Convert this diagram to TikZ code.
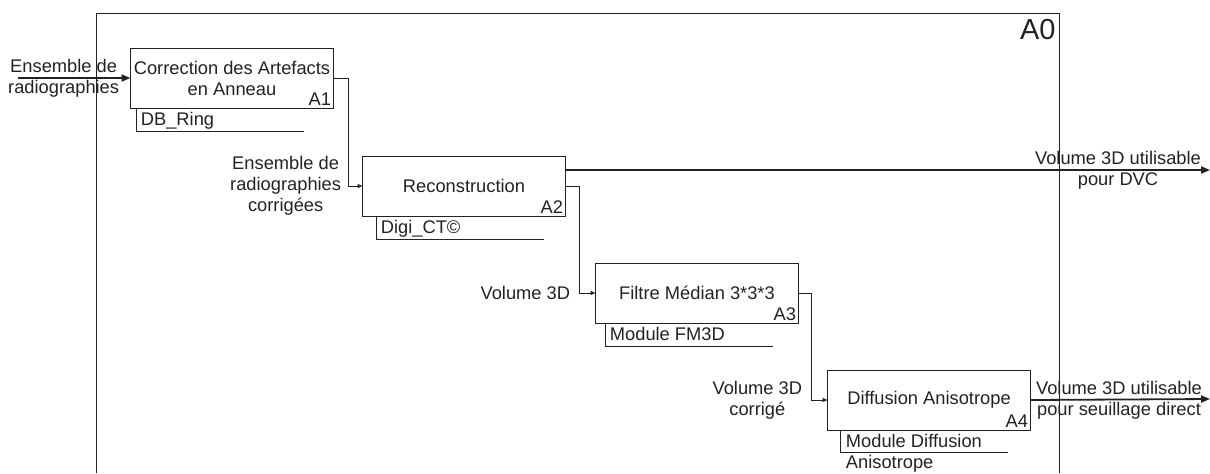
\documentclass[tikz,border=0pt]{standalone}
\usepackage{fontspec}
\setmainfont{Liberation Sans}
\usetikzlibrary{positioning, arrows.meta}
\definecolor{idefgray}{RGB}{34,34,34}

\begin{document}
\begin{tikzpicture}[x=0.5pt, y=-0.5pt,
  font=\fontsize{9.15}{10.5}\selectfont, text=idefgray,
  activity/.style={rectangle, draw=idefgray, line width=0.5pt, align=center,
    minimum width=101.5pt, minimum height=30pt, inner sep=0pt, outer sep=0pt},
  code/.style={anchor=south east, inner sep=1pt},
  lbl/.style={align=center, inner sep=2pt},
  mlbl/.style={anchor=base west, inner sep=0pt, align=left},
  flow/.style={-{Triangle[length=2.5pt, width=2pt]}, line width=0.5pt, draw=idefgray},
  ext/.style={-{Triangle[length=4.5pt, width=3.5pt]}, line width=0.9pt, draw=idefgray},
  mech/.style={line width=0.5pt, draw=idefgray}
]
  \useasboundingbox (0,0) rectangle (1210,473);

  % cadre A0
  \draw[mech] (96,473) |- (1059,13) coordinate (a0) -- (1059,473);
  \node[anchor=base east, inner sep=0pt, font=\fontsize{14.5}{16}\selectfont] (a0lbl)
    at ([shift={(-1.5pt,-13pt)}]a0) {A0};

  % activites
  \node[activity] (a1) at (232,78) {Correction des Artefacts\\en Anneau};
  \node[activity, below right=24pt and 14.5pt of a1] (a2) {Reconstruction};
  \node[activity, below right=23.5pt and 15pt of a2] (a3) {Filtre Médian 3*3*3};
  \node[activity, below right=23.5pt and 14.5pt of a3] (a4) {Diffusion Anisotrope};
  \node[code] (n1) at (a1.south east) {A1};
  \node[code] (n2) at (a2.south east) {A2};
  \node[code] (n3) at (a3.south east) {A3};
  \node[code] (n4) at (a4.south east) {A4};

  % entree
  \coordinate[left=56.5pt of a1.west] (in1);
  \draw[ext] (in1) -- (a1.west);
  \node[lbl, left=3.5pt of a1.west] (lin) {Ensemble de\\radiographies};

  % enchainement
  \draw[flow] (a1.east) -- ++(7.5pt,0) coordinate (b12) |- (a2.west);
  \coordinate (k12) at (b12 |- a2.west);
  \node[lbl, left=1.5pt of k12] (l12) {Ensemble de\\radiographies\\corrigées};

  \draw[flow] (a2.east) -- ++(7pt,0) coordinate (b23) |- (a3.west);
  \coordinate (k23) at (b23 |- a3.west);
  \node[lbl, left=2.5pt of k23] (l23) {Volume 3D};

  \draw[flow] (a3.east) -- ++(6.5pt,0) coordinate (b34) |- (a4.west);
  \coordinate (k34) at (b34 |- a4.west);
  \node[lbl, left=2.5pt of k34] (l34) {Volume 3D\\corrigé};

  % sorties
  \coordinate (dvc) at (1210,170);
  \coordinate (seuil) at (1210,399);
  \draw[ext] ([yshift=-7pt]a2.north east) -- (dvc);
  \draw[ext] (a4.east) -- (seuil);
  \node[lbl] (ldvc) at (1118,170) {Volume 3D utilisable\\pour DVC};
  \node[lbl] (lseuil) at (1119,400) {Volume 3D utilisable\\pour seuillage direct};

  % mecanismes
  \draw[mech] ([xshift=3pt]a1.south west) -- ++(0,-11.5pt) coordinate (m1) -- ++(83.5pt,0);
  \node[mlbl] (t1) at ([shift={(2pt,3pt)}]m1) {DB\_Ring};
  \draw[mech] ([xshift=7pt]a2.south west) -- ++(0,-11.5pt) coordinate (m2) -- ++(83.5pt,0);
  \node[mlbl] (t2) at ([shift={(2pt,3pt)}]m2) {Digi\_CT©};
  \draw[mech] ([xshift=5pt]a3.south west) -- ++(0,-11.5pt) coordinate (m3) -- ++(83.5pt,0);
  \node[mlbl] (t3) at ([shift={(2pt,3pt)}]m3) {Module FM3D};
  \draw[mech] ([xshift=6.5pt]a4.south west) -- ++(0,-11pt) coordinate (m4) -- ++(83.5pt,0);
  \node[mlbl] (t4) at ([shift={(2.5pt,-8pt)}]m4) {Module Diffusion\\Anisotrope};
\end{tikzpicture}
\end{document}
